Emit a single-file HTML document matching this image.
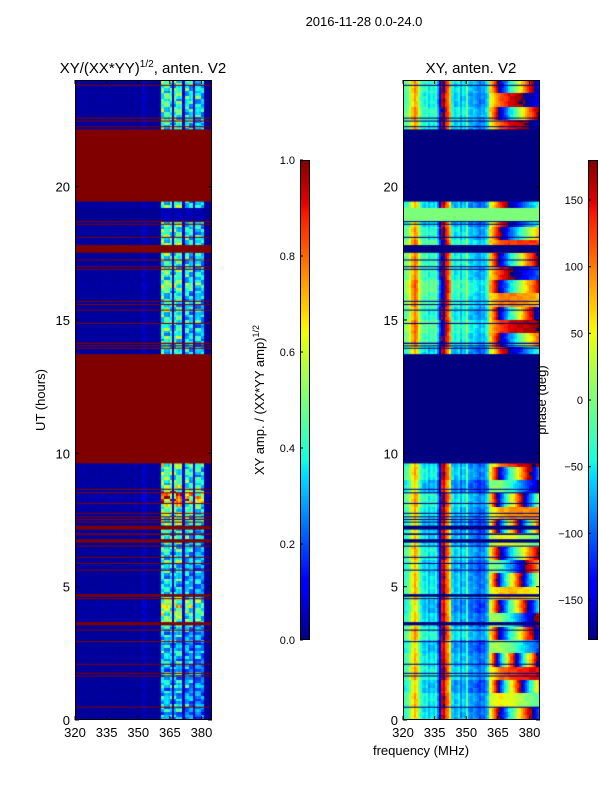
<!DOCTYPE html>
<html><head><meta charset="utf-8">
<style>
html,body{margin:0;padding:0;background:#fff;}
#wrap{position:relative;width:600px;height:800px;overflow:hidden;font-family:"Liberation Sans",sans-serif;}
canvas{position:absolute;}
svg{position:absolute;left:0;top:0;}
text{font-family:"Liberation Sans",sans-serif;fill:#000;}
</style></head>
<body>
<div id="wrap">
<canvas id="ampCanvas" width="137" height="640" style="left:75px;top:80px"></canvas>
<canvas id="phsCanvas" width="137" height="640" style="left:403px;top:80px"></canvas>
<canvas id="cb1" width="10" height="480" style="left:300px;top:160px"></canvas>
<canvas id="cb2" width="10" height="480" style="left:588px;top:160px"></canvas>
<svg id="ov" width="600" height="800">
<text x="364" y="26" font-size="13" text-anchor="middle">2016-11-28 0.0-24.0</text>
<text x="143" y="73" font-size="15" text-anchor="middle">XY/(XX*YY)<tspan font-size="10" dy="-6">1/2</tspan><tspan dy="6">, anten. V2</tspan></text>
<text x="471" y="73" font-size="15" text-anchor="middle">XY, anten. V2</text>
<text transform="translate(45,400) rotate(-90)" font-size="13" text-anchor="middle">UT (hours)</text>
<text x="421" y="755" font-size="13" text-anchor="middle">frequency (MHz)</text>
<text transform="translate(264,400) rotate(-90)" font-size="13" text-anchor="middle">XY amp. / (XX*YY amp)<tspan font-size="9" dy="-5">1/2</tspan></text>
<text transform="translate(546,400) rotate(-90)" font-size="13" text-anchor="middle">phase (deg)</text>
</svg>
</div>
<script>
// ---- data ----
const channels = [];  // MHz channel starts 320..384
for (let f = 320; f < 385; f++) channels.push(f);
const ampGain = [0.02,0.02,0.03,0.02,0.03,0.02,0.02,0.03,0.02,0.02,
 0.03,0.02,0.02,0.03,0.02,0.02,0.03,0.02,0.02,0.03,
 0.02,0.02,0.03,0.02,0.02,0.03,0.02,0.02,0.03,0.02,
 0.02,0.03,0.08,0.07,0.02,0.03,0.02,0.02,0.03,0.02,
 0.04,0.85,0.8,0.85,0.75,0.8,0.1,0.8,0.85,0.75,
 0.85,0.1,0.7,0.75,0.65,0.7,0.1,0.65,0.7,0.65,
 0.6,0.02,0.02,0.02,0.02];
const rowAmp = [0.35,0.42,0.30,0.45,0.38,0.50,0.33,0.40,0.47,0.36,
 0.44,0.31,0.52,0.39,0.46,0.35,0.42,0.49,0.30,0.41,
 0.37,0.48,0.33,0.45,0.40,0.52,0.36,0.43,0.30,0.46,
 0.38,0.50,0.34,0.47,0.41,0.55,0.62,0.70,0.58,0.66,
 0.74,0.60,0.80,0.68,0.72,0.58,0.50,0.45,0.42,0.48,
 0.40,0.46,0.52,0.38,0.44,0.50,0.36,0.48,0.42,0.55,
 0.45,0.50,0.40,0.56,0.48,0.42,0.52,0.46,0.58,0.44,
 0.50,0.56,0.48,0.62,0.66,0.54,0.60,0.70,0.58,0.64,
 0.72,0.96,1.05,1.02,0.98,0.90,0.60,0.66,0.55,0.62,
 0.58,0.50,0.64,0.56,0.60,0.68,0.72,0.66,0.60,0.58,
 0.5,0.5,0.5,0.5,0.5,0.5,0.5,0.5,0.5,0.5,
 0.5,0.5,0.5,0.5,0.5,0.5,0.5,0.5,0.5,0.5,
 0.5,0.5,0.5,0.5,0.5,0.5,0.5,0.5,0.5,0.5,
 0.5,0.5,0.5,0.5,0.5,0.5,0.5,0.5,0.5,0.5,
 0.42,0.55,0.48,0.60,0.45,0.52,0.58,0.44,0.50,0.56,
 0.48,0.54,0.46,0.60,0.50,0.44,0.56,0.48,0.52,0.46,
 0.50,0.58,0.66,0.72,0.55,0.48,0.60,0.52,0.62,0.50,
 0.54,0.48,0.60,0.52,0.56,0.50,0.58,0.46,0.62,0.55,
 0.56,0.62,0.50,0.60,0.48,0.54,0.58,0.05,0.05,0.05,
 0.05,0.05,0.60,0.50,0.5,0.5,0.5,0.5,0.5,0.5,
 0.5,0.5,0.5,0.5,0.5,0.5,0.5,0.5,0.5,0.5,
 0.5,0.5,0.5,0.5,0.5,0.5,0.5,0.5,0.5,0.5,
 0.5,0.5,0.52,0.46,0.58,0.50,0.55,0.48,0.60,0.52,
 0.50,0.56,0.48,0.62,0.54,0.50,0.58,0.46,0.55,0.60];
const ripple = [1.0,0.7,1.15,0.85,1.25,0.6,0.95];
const basePhase = [-40,-30,-20,10,50,80,60,10,-30,-50,
 -60,-40,-70,-50,-60,-40,-90,-150,150,170,
 120,100,60,-60,-80,-70,-50,-90,-60,-70,
 -20,-80,-90,-80,-90,-100,-110,-90,-100,-80,
 -60,40,60,80,100,120,140,150,160,170,
 -170,-160,-150,-140,-130,-120,-110,-100,-90,-80,
 -70,-60,-50,-40,-30];
const phaseTwist = [12,-15,20,-8,25,-18,10,-22,15,-12,
 18,-25,8,-14,22,-10,16,-20,12,-6,
 0,0,0,0,0,0,0,0,5,-8,
 10,-12,6,-4,8,-10,4,0,0,0,
 0,0,0,0,-6,8,-5,10];
const phaseOffset = [0,10,-10,15,5,-10,20,0,-15,10,
 5,-5,15,0,-10,5,20,-15,10,0,
 0,0,0,0,0,0,0,0,30,40,
 20,35,45,25,30,40,20,0,0,0,
 0,0,0,0,15,25,10,20];
const flagged = [[0.46,0.50],[1.63,1.67],[1.73,1.77],[2.07,2.11],[2.92,2.96],[3.35,3.39],[3.55,3.67],[4.53,4.57],[4.62,4.72],[5.60,5.64],[5.85,5.89],[6.08,6.12],[6.50,6.54],[6.65,6.78],[6.94,7.0],[7.14,7.29],[7.40,7.44],[7.50,7.54],[7.60,7.64],[7.73,7.77],[8.10,8.14],[8.50,8.54],[8.63,8.67],[9.62,13.72],[13.92,13.96],[14.01,14.05],[14.10,14.15],[14.85,14.89],[15.35,15.39],[15.56,15.60],[15.68,15.72],[16.88,16.92],[16.98,17.02],[17.23,17.27],[17.52,17.81],[18.08,18.12],[18.57,18.61],[18.67,18.71],[19.44,22.15],[22.23,22.27],[22.44,22.48],[22.55,22.59],[23.78,23.82]];
const constPhase = [[18.75,19.2]];
const xTicks = [320,335,350,365,380];
const yTicks = [0,5,10,15,20];
const ampTicks = [0.0,0.2,0.4,0.6,0.8,1.0];
const phaseTicks = [-150,-100,-50,0,50,100,150];

// ---- scales ----
const PW = 137, PH = 640, FMIN = 320, FMAX = 385, TMAX = 24, DT = 0.1;
const xs = f => (f - FMIN) / (FMAX - FMIN) * PW;
const ys = h => PH - h / TMAX * PH;
function jet(v){
  v = Math.max(0, Math.min(1, v));
  const seg = (pts) => { for (let i=1;i<pts.length;i++){ if (v<=pts[i][0]){ const a=pts[i-1],b=pts[i]; return a[1]+(b[1]-a[1])*(v-a[0])/(b[0]-a[0]); } } return pts[pts.length-1][1]; };
  const r = seg([[0,0],[0.35,0],[0.66,1],[0.89,1],[1,0.5]]);
  const g = seg([[0,0],[0.125,0],[0.375,1],[0.64,1],[0.91,0],[1,0]]);
  const b = seg([[0,0.5],[0.11,1],[0.34,1],[0.65,0],[1,0]]);
  return 'rgb('+Math.round(r*255)+','+Math.round(g*255)+','+Math.round(b*255)+')';
}
const wrap = p => ((p + 180) % 360 + 360) % 360 - 180;

// ---- heatmaps ----
const ca = document.getElementById('ampCanvas').getContext('2d');
const cp = document.getElementById('phsCanvas').getContext('2d');
for (let r = 0; r < rowAmp.length; r++){
  const h0 = r*DT, h1 = (r+1)*DT;
  const y0 = Math.round(ys(h1)), y1 = Math.round(ys(h0));
  const hb = Math.min(phaseTwist.length-1, Math.floor(r/5));
  const cst = constPhase.some(iv => h0 + 0.05 >= iv[0] && h0 + 0.05 <= iv[1]);
  for (let c = 0; c < channels.length; c++){
    const x0 = Math.round(xs(channels[c])), x1 = Math.round(xs(channels[c]+1));
    const rip = ripple[(r*3 + Math.floor(c/3)) % ripple.length];
    const a = 0.015 + ampGain[c] * rowAmp[r] * rip;
    ca.fillStyle = jet(a);
    ca.fillRect(x0, y0, x1-x0, y1-y0);
    let p;
    if (cst) p = 0;
    else {
      const df = Math.max(0, channels[c] - 360);
      p = wrap(basePhase[c] + phaseOffset[hb] + phaseTwist[hb]*df + (rip-1)*25);
    }
    cp.fillStyle = jet((p + 180) / 360);
    cp.fillRect(x0, y0, x1-x0, y1-y0);
  }
}
flagged.forEach(iv => {
  const y0 = ys(iv[1]), y1 = ys(iv[0]);
  const hgt = Math.max(1, y1 - y0);
  ca.fillStyle = '#800000'; ca.fillRect(0, y0, PW, hgt);
  cp.fillStyle = '#000080'; cp.fillRect(0, y0, PW, hgt);
});
// colorbars
const cb1 = document.getElementById('cb1').getContext('2d');
const cb2 = document.getElementById('cb2').getContext('2d');
for (let i = 0; i < 480; i++){
  cb1.fillStyle = jet(1 - (i+0.5)/480); cb1.fillRect(0,i,10,1);
  cb2.fillStyle = jet(1 - (i+0.5)/480); cb2.fillRect(0,i,10,1);
}

// ---- axes ----
const NS = 'http://www.w3.org/2000/svg';
const svg = document.getElementById('ov');
function mk(tag, attrs){ const e = document.createElementNS(NS, tag); for (const k in attrs) e.setAttribute(k, attrs[k]); svg.appendChild(e); return e; }
[[75,'left'],[403,'right']].forEach(([ox, side]) => {
  const fr = mk('rect', {x:ox+0.5, y:80.5, width:PW-1, height:PH-1, fill:'none', stroke:'#000', 'stroke-width':1});
  
  
  xTicks.forEach(t => {
    const x = ox + xs(t);
    const l1 = mk('line', {x1:x, y1:720, x2:x, y2:716, stroke:'#000'});
    
    
    const l2 = mk('line', {x1:x, y1:80, x2:x, y2:84, stroke:'#000'});
    
    
    const tx = mk('text', {x:x, y:737, 'font-size':13, 'text-anchor':'middle'});
    tx.textContent = t;
    
    
  });
  yTicks.forEach(t => {
    const y = 80 + ys(t);
    const l1 = mk('line', {x1:ox, y1:y, x2:ox+4, y2:y, stroke:'#000'});
    
    
    const l2 = mk('line', {x1:ox+PW, y1:y, x2:ox+PW-4, y2:y, stroke:'#000'});
    
    
    const tx = mk('text', {x:ox-5, y:y+5, 'font-size':13, 'text-anchor':'end'});
    tx.textContent = t;
    
    
  });
});
function colorbarAxis(ox, ticks, vmin, vmax, fmt, nm){
  const fr = mk('rect', {x:ox+0.5, y:160.5, width:9, height:479, fill:'none', stroke:'#000', 'stroke-width':1});
  
  
  ticks.forEach(t => {
    const y = 160 + 480 - (t - vmin) / (vmax - vmin) * 480;
    const l = mk('line', {x1:ox, y1:y, x2:ox+3, y2:y, stroke:'#000'});
    
    
    const tx = mk('text', {x:ox-5, y:y+4, 'font-size':11, 'text-anchor':'end'});
    tx.textContent = fmt(t);
    
    
  });
}
colorbarAxis(300, ampTicks, 0, 1, t => t.toFixed(1), 'amplitude-colorbar');
colorbarAxis(588, phaseTicks, -180, 180, t => (t < 0 ? '\u2212' + (-t) : '' + t), 'phase-colorbar');
</script>
</body></html>
